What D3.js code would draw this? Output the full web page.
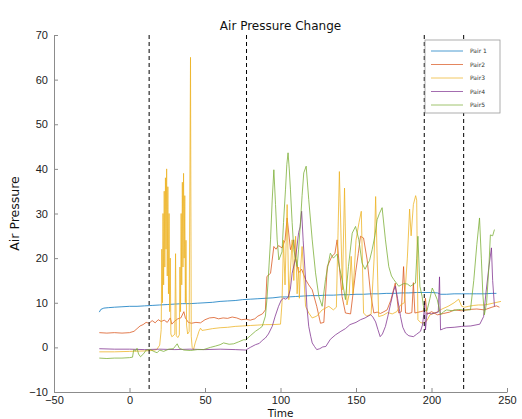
<!DOCTYPE html>
<html>
<head>
<meta charset="utf-8">
<script src="https://cdn.jsdelivr.net/npm/d3@7"></script>
<style>
body { margin: 0; background: #fff; }
svg { display: block; font-family: "DejaVu Sans", Helvetica, Arial, sans-serif; }
</style>
</head>
<body>
<svg id="chart" width="522" height="419"></svg>
<script>
const seriesNames = ["Pair 1", "Pair2", "Pair3", "Pair4", "Pair5"];
const seriesColors = ["#0072BD", "#D95319", "#EDB120", "#7E2F8E", "#77AC30"];

// [time, pressure]
const pair1 = [[-20,7.9],[-19,8.5],[-17,8.8],[-14,8.9],[-10,9.0],[-5,9.1],[0,9.2],[5,9.2],[10,9.3],[15,9.4],[20,9.5],[25,9.6],[30,9.7],[35,9.8],[40,9.8],[45,9.9],[50,10.0],[55,10.1],[60,10.3],[65,10.4],[70,10.5],[75,10.7],[80,10.8],[85,10.9],[90,11.0],[95,11.1],[100,11.3],[105,11.3],[110,11.4],[115,11.5],[120,11.6],[125,11.6],[130,11.7],[135,11.7],[140,11.8],[145,11.8],[150,11.9],[155,11.9],[160,12.0],[165,12.0],[170,12.1],[175,12.1],[180,12.2],[185,12.2],[190,12.3],[195,12.3],[200,12.3],[204,12.2],[206,11.9],[210,11.9],[215,12.0],[220,12.0],[225,12.0],[230,12.0],[235,12.0],[240,12.1],[243,12.1]];

const pair2 = [[-20,3.3],[-15,3.2],[-10,3.3],[-5,3.2],[0,3.3],[3,3.6],[5,4.2],[7,4.8],[9,5.1],[11,5.6],[13,5.4],[15,6.0],[17,5.5],[19,6.2],[21,5.8],[23,6.1],[25,5.6],[27,6.6],[28,5.2],[30,5.9],[32,6.4],[34,6.6],[36,8.0],[37,6.6],[39,5.6],[41,5.4],[44,5.6],[47,5.5],[50,6.2],[53,6.6],[56,6.7],[59,6.4],[62,6.6],[65,6.5],[68,6.8],[71,6.6],[74,6.2],[77,6.3],[80,6.1],[83,6.4],[85,7.0],[88,7.5],[90,8.4],[91,15.9],[93.4,16.6],[95.6,22.6],[97,22.0],[98.7,22.8],[101,22.3],[103,24],[104.4,29],[106.6,21.9],[108.8,24.1],[110,20],[112,16.7],[114,17.5],[116.6,15.2],[118.7,14],[121,12.9],[124,9.2],[126.5,5.4],[128.7,5.6],[131,18.1],[134,20.4],[136,21],[137.5,24.1],[139,18],[140.8,11.4],[143,7.7],[146.4,7.5],[149.7,16.7],[151.5,21],[153,24.9],[155,24.5],[157.4,19.6],[159.6,12.2],[161.8,7.7],[164,7.9],[166.2,7.6],[168.5,8.0],[170.6,8.4],[173,10.5],[176,14.4],[178.3,7.7],[180,8.0],[181.5,18.1],[182.8,7.7],[185,7.6],[187,7.8],[188,14.5],[189,7.7],[192.7,8.0],[195,8.2],[196,11],[197,7.4],[200,8.0],[204,7.3],[208,7.6],[212,7.9],[215,8.4],[220,8.2],[225,8.5],[230,8.6],[235,8.4],[240,9.0],[243,9.3],[245,9.0]];

const pair3 = [[-20,-1.0],[-10,-1.0],[0,-0.9],[10,-0.8],[15,-0.7],[18,-0.5],[20,0.5],[21,4],[21.4,22],[21.8,10],[22.2,30],[22.6,14],[23,35],[23.4,18],[23.8,38],[24.2,22],[24.6,40],[25,16],[25.4,36],[25.8,12],[26.2,30],[26.6,8],[27,20],[27.4,3],[28,2.4],[29,2.6],[30,3],[30.5,21],[31,2.6],[32,2.2],[33,2.8],[33.4,18],[33.8,8],[34.2,30],[34.6,14],[35,37],[35.4,18],[35.8,39],[36.2,20],[36.6,34],[37,10],[37.4,24],[37.8,5],[38.5,3],[39.5,3.5],[40.4,65],[40.9,2.5],[41.5,0],[42.4,-0.5],[43.5,1],[45,2.5],[46,3.6],[47,4.3],[48,3.8],[50,3.9],[55,4.2],[60,4.4],[65,4.5],[70,4.7],[75,4.8],[80,4.9],[85,5.0],[90,5.1],[95,5.1],[100,5.2],[101,10],[102,24],[103,14],[104.4,32],[105.5,10.7],[107.7,24.1],[108.8,15],[110,24.9],[111,12],[112,18],[112.5,11],[113,16],[114.3,22.6],[116.6,9.2],[118.7,7.7],[121,6.6],[124,7.0],[127.6,8.4],[132,9.2],[135,8.4],[137,9.0],[139,39.4],[141,12.9],[142.4,35.7],[144,9.5],[145.5,12],[146.8,20.4],[148,12],[150,24],[152,28],[153.5,30.5],[155,7.7],[157,7.0],[160,7.4],[162,20],[163,33.8],[165,6.9],[168,7.2],[171,7.8],[174,7.5],[177,8.0],[179.5,9.5],[182,10],[184,20],[185.5,31],[186.5,25],[188,32],[189.5,34],[190.2,33],[191,6.2],[193,5.5],[195,5.5],[197,6.0],[199,7.3],[203,7.8],[207,8.6],[211,9.2],[215,10.0],[218,10.8],[220,9.2],[222,9.0],[224.6,9.2],[228,9.4],[231,9.5],[235,9.5],[238,9.7],[242,10.0],[246,10.3]];

const pair4 = [[-20,-0.3],[-10,-0.4],[0,-0.4],[10,-0.5],[20,-0.4],[30,-0.5],[40,-0.4],[50,-0.5],[60,-0.4],[70,-0.5],[77,-0.6],[80,0],[83.4,0.6],[86,0.9],[88,1.6],[90,2.1],[92,3.0],[94.5,4.7],[96.5,7],[98.7,9.2],[100.5,10.6],[102,11.0],[103.5,10.8],[105,11.2],[106.5,13],[107.7,16.6],[110,20],[112,25.7],[113,27],[114,30.5],[115,24],[116.6,15.2],[117.5,9],[118.7,4.7],[120,2.5],[121,1.0],[122.5,0.2],[124,-0.5],[126,-0.3],[128,0.1],[130,0.2],[133,1.8],[136.4,2.8],[140,3.6],[143,4.2],[146,5.1],[150,5.6],[153,6.2],[156,6.6],[159.6,7.3],[161,6.9],[163,5.7],[164.5,4.0],[166,2.4],[167.5,3],[169.5,4.7],[171,6.8],[173,9.9],[175,12.8],[176,13.7],[177.5,11],[179.5,6.9],[181,4.5],[182.8,3.2],[185,2.6],[188,2.4],[190,2.9],[192.7,3.6],[194,5],[195,7.7],[195.5,10],[196,3.9],[197,7.7],[200,7.5],[203,7.8],[204.5,7.9],[205.3,15.8],[206,3.9],[208,4.2],[210,4.4],[215,4.5],[220,4.7],[226,4.8],[232,5.2],[234.5,6.9],[236,12],[238,18],[239.7,22.3],[240.5,15],[241.7,9.2]];

const pair5 = [[-20,-2.4],[-15,-2.5],[-10,-2.4],[-5,-2.4],[0,-2.3],[2,-2.2],[2.8,-0.5],[4,-0.8],[5,-0.2],[6,-1.5],[7.3,-2.1],[9.4,-1.4],[11,-0.6],[14,-0.5],[16,-0.9],[18.3,-1.2],[20,-0.6],[22.6,-0.9],[26,-0.4],[29,-0.3],[31.6,0.8],[33,-0.2],[36,-0.6],[40.4,-0.7],[45,-0.5],[49,-0.5],[53.6,0],[57,0.3],[60,0.6],[62.3,1.0],[66,0.7],[69,0.8],[72,1.2],[75.5,1.7],[77,1.7],[80,2.6],[83.4,3.6],[86,4.2],[87.9,4.7],[90,7],[91,10.7],[92,16],[93.4,24.1],[94.5,33],[95.6,39.8],[96.7,32],[97.8,24.1],[98.9,19.6],[101,21.4],[102,28],[103.3,35.3],[104.2,41],[105,43.6],[105.8,40],[106.6,35.3],[107.7,28],[108.8,21.9],[111,18.1],[112,22],[113.2,27.9],[114.3,34],[115.4,39.1],[117,40.6],[118.7,33.1],[121,24.1],[123.2,16.7],[125.4,11.4],[127.6,9.2],[129.8,15.2],[131.5,18.5],[133,21.1],[135,20],[137.5,20.9],[139,18],[140.8,15.2],[143,10.7],[145,18.1],[147.5,25.6],[149.7,27.1],[151.9,24.1],[154,18.9],[156,17.5],[157.4,18.5],[159,19.5],[160.7,21.9],[162.5,25],[164,28.6],[165.5,30],[167.3,31.3],[169.5,24.1],[171.7,18.1],[173.5,16],[175,15.2],[178.3,13.7],[181.7,14.3],[184,14.2],[186,13.7],[189.4,14.4],[190.2,20],[191,24.9],[192.3,13.7],[193.8,11.4],[195,8.4],[197,8.2],[199,11],[200.5,13.3],[202,12.2],[203.8,10.7],[206,7.3],[208,8.0],[210,8.4],[214,8.2],[218,8.5],[221,8.4],[225.8,8.4],[228,15],[230,23],[231.8,29],[233,20],[234,12],[235,7.3],[236.5,10],[238,18],[239,25.2],[240.5,25],[241.7,26.4]];

const markerTimes = [13, 77.5, 195.2, 221.3];
const xTicks = [-50, 0, 50, 100, 150, 200, 250];
const yTicks = [-10, 0, 10, 20, 30, 40, 50, 60, 70];

const allSeries = [pair1, pair2, pair3, pair4, pair5];

const svg = d3.select("#chart");
const margin = {top: 35, right: 15, bottom: 27, left: 54};
const width = 522 - margin.left - margin.right;
const height = 419 - margin.top - margin.bottom;

const x = d3.scaleLinear().domain([-50, 250]).range([0, width]);
const y = d3.scaleLinear().domain([-10, 70]).range([height, 0]);

const g = svg.append("g").attr("transform", `translate(${margin.left},${margin.top})`);

// axes, ticks inside like matlab
const gx = g.append("g").attr("transform", `translate(0,${height})`)
    .call(d3.axisBottom(x).tickValues(xTicks).tickSizeInner(-4).tickSizeOuter(0).tickPadding(4));
const gy = g.append("g")
    .call(d3.axisLeft(y).tickValues(yTicks).tickSizeInner(-4).tickSizeOuter(0).tickPadding(6));

[gx, gy].forEach(ax => {
    ax.select(".domain").attr("stroke", "#8c8c8c");
    ax.selectAll(".tick line").attr("stroke", "#8c8c8c");
    ax.selectAll(".tick text").attr("fill", "#222").style("font-size", "11px");
});

const line = d3.line().x(d => x(d[0])).y(d => y(d[1]));

g.selectAll(".series").data(allSeries).join("path")
    .attr("class", "series")
    .attr("fill", "none")
    .attr("stroke", (d, i) => seriesColors[i])
    .attr("stroke-width", 0.9)
    .attr("stroke-opacity", 0.85)
    .attr("stroke-linejoin", "round")
    .attr("d", line);

// legend
const legend = svg.append("g").attr("transform", "translate(425,40)");
legend.append("rect").attr("width", 75).attr("height", 73)
    .attr("fill", "#fff").attr("stroke", "#9a9a9a").attr("stroke-width", 0.8);
const rows = legend.selectAll(".row").data(seriesNames).join("g")
    .attr("class", "row")
    .attr("transform", (d, i) => `translate(0,${11 + i * 13.5})`);
rows.append("line").attr("x1", 6).attr("x2", 38)
    .attr("stroke", (d, i) => seriesColors[i]).attr("stroke-opacity", 0.7).attr("stroke-width", 1);
rows.append("text").attr("x", 45).attr("dy", "0.35em")
    .style("font-size", "6px").attr("fill", "#333").text(d => d);

// event markers
g.selectAll(".marker").data(markerTimes).join("line")
    .attr("class", "marker")
    .attr("x1", d => x(d)).attr("x2", d => x(d))
    .attr("y1", 0).attr("y2", height)
    .attr("stroke", "#000").attr("stroke-width", 1)
    .attr("stroke-dasharray", "4,3");

svg.append("text").attr("x", margin.left + width / 2).attr("y", 30)
    .attr("text-anchor", "middle").style("font-size", "12px").attr("fill", "#111")
    .text("Air Pressure Change");

svg.append("text").attr("transform", `translate(19,${margin.top + height / 2}) rotate(-90)`)
    .attr("text-anchor", "middle").style("font-size", "12.5px").attr("fill", "#111")
    .text("Air Pressure");

svg.append("text").attr("x", margin.left + width / 2).attr("y", 416.5)
    .attr("text-anchor", "middle").style("font-size", "10.5px").attr("fill", "#111")
    .text("Time");
</script>
</body>
</html>
